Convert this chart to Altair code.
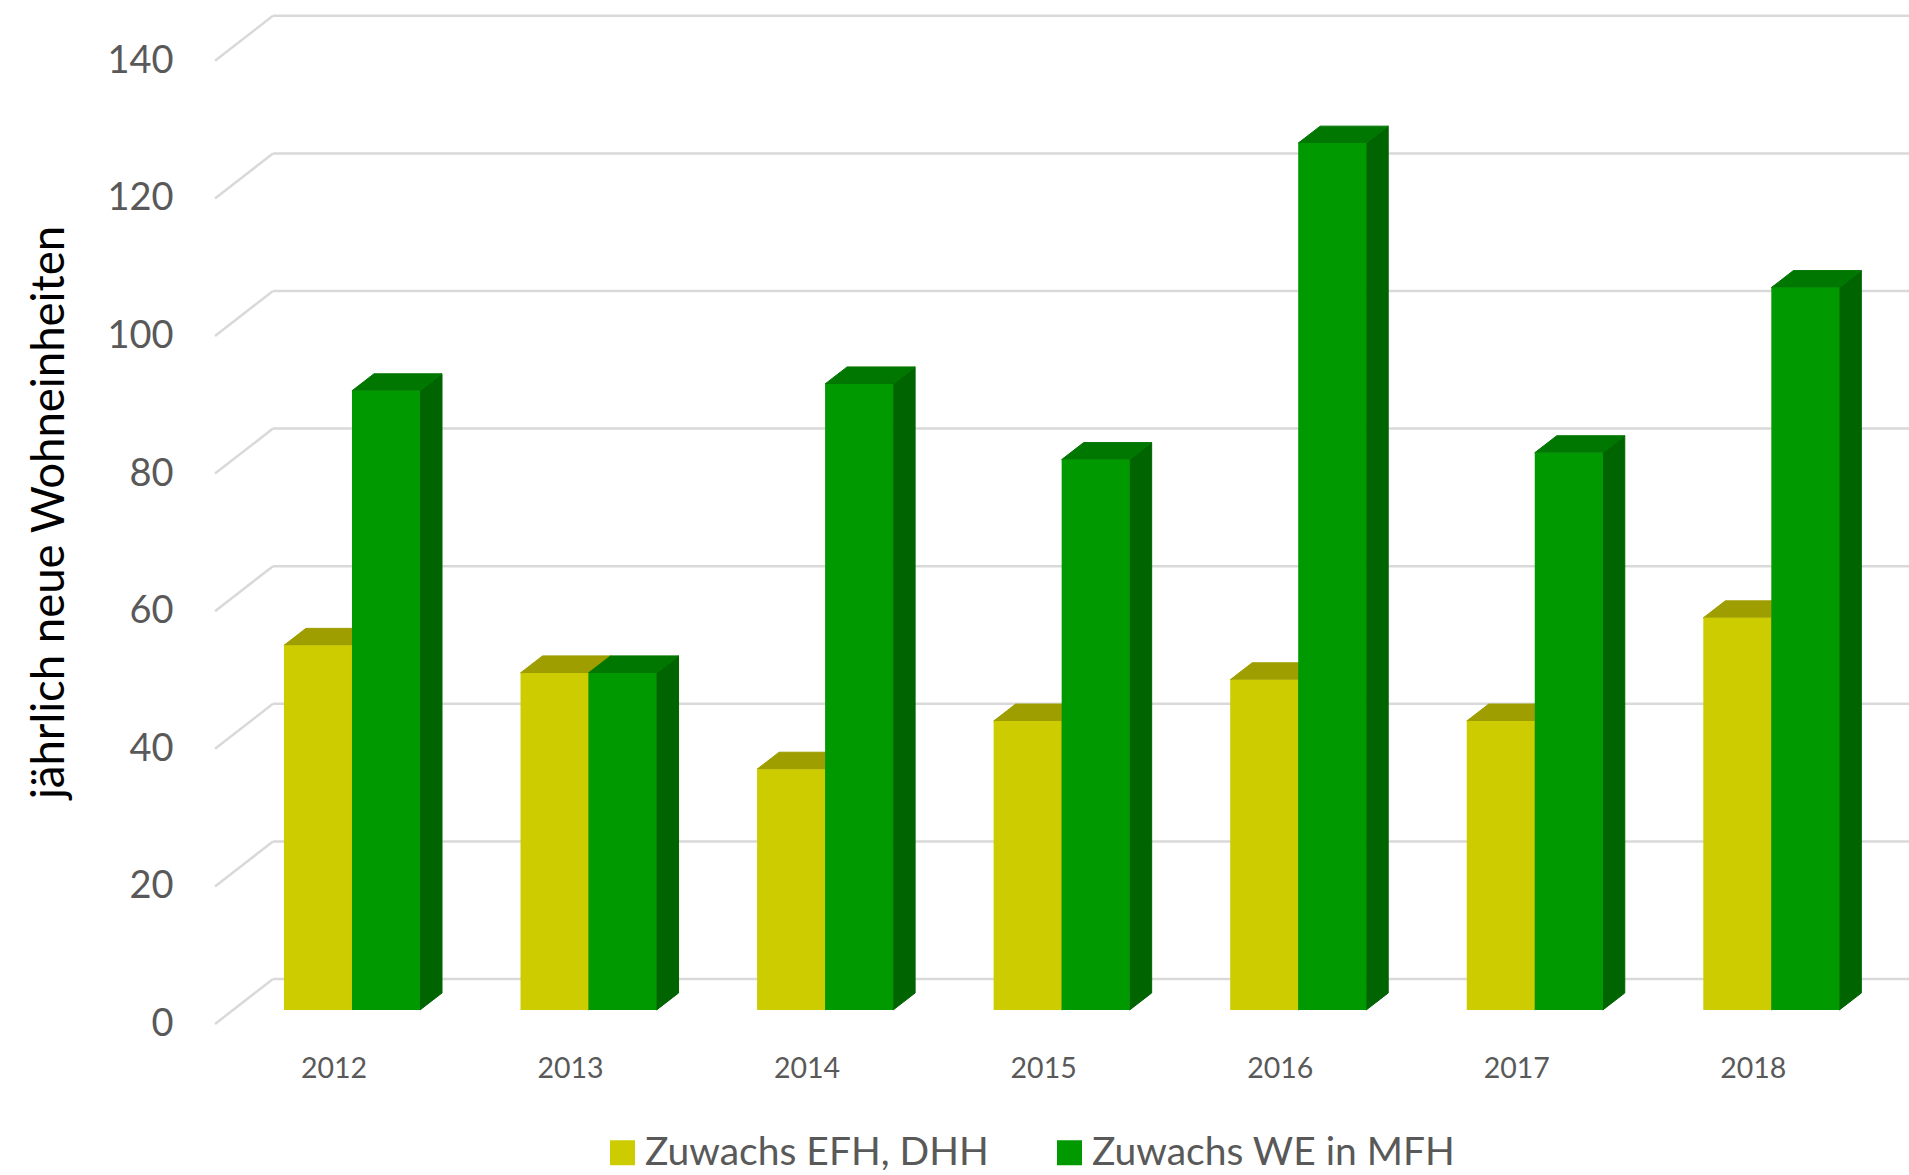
import altair as alt
import pandas as pd

# ---------------- data ----------------
years = ["2012", "2013", "2014", "2015", "2016", "2017", "2018"]
efh = [53, 49, 35, 42, 48, 42, 57]        # Zuwachs EFH, DHH
mfh = [90, 49, 91, 80, 126, 81, 105]      # Zuwachs WE in MFH
series_names = ["Zuwachs EFH, DHH", "Zuwachs WE in MFH"]
tick_values = [0, 20, 40, 60, 80, 100, 120, 140]
y_title = "jährlich neue Wohneinheiten"

# ---------------- layout / style constants ----------------
W, H = 1909, 1175
GAP = 0.2125          # left gap inside a category slot (slot units)
BW = 0.2875           # bar width (slot units)
DX = 0.093            # 3D depth, horizontal (slot units)
DY = 2.47             # 3D depth, vertical (value units)
X_RANGE = [233.7, 1889.6]
Y_RANGE = [1010, 46.8]
WALL_LEFT = 0.166     # back wall left edge (slot units)
FRONT_LEFT = -0.079   # front edge of grid diagonals (slot units)
WALL_RIGHT = 7.2

front_colors = ["#CCCC00", "#009900"]
top_colors = ["#9E9E00", "#007700"]
side_colors = ["#8A8A00", "#006400"]
grid_color = "#D9D9D9"
text_gray = "#595959"
FONT = "Lato"

xs = alt.Scale(domain=[0, 7], range=X_RANGE)
ys = alt.Scale(domain=[0, 140], range=Y_RANGE)

# ---------------- derived tables ----------------
bars, tops, sides = [], [], []
vals_by_series = [efh, mfh]
for i, yr in enumerate(years):
    for k, s in enumerate(series_names):
        v = vals_by_series[k][i]
        xl = i + GAP + k * BW
        xr = xl + BW
        bid = f"{yr}-{k}"
        bars.append(dict(id=bid, year=yr, series=s, k=k, value=v, base=0, xl=xl, xr=xr))
        tops.append(dict(id=bid, k=k, yv=v, xa=xl, xb=xr))
        tops.append(dict(id=bid, k=k, yv=v + DY, xa=xl + DX, xb=xr + DX))
        sides.append(dict(id=bid, k=k, xv=xr, ya=v, yb=0))
        sides.append(dict(id=bid, k=k, xv=xr + DX, ya=v + DY, yb=DY))

bars_df = pd.DataFrame(bars)
tops_df = pd.DataFrame(tops)
sides_df = pd.DataFrame(sides)
ticks_df = pd.DataFrame({"tick": tick_values})
ticks_df["xf"] = FRONT_LEFT
ticks_df["xw"] = WALL_LEFT
ticks_df["xr"] = WALL_RIGHT
years_df = pd.DataFrame({"year": years, "xc": [i + 0.5 for i in range(len(years))], "base": 0})

# ---------------- shared y axis ----------------
yaxis = alt.Axis(
    values=tick_values, grid=False, domain=False, ticks=False, tickSize=0,
    labelPadding=0, offset=-173, labelOffset=14.5,
    labelFont=FONT, labelFontSize=38, labelColor=text_gray,
    title=y_title, titleFont=FONT, titleFontSize=45.5, titleFontWeight="normal",
    titleColor="#000000", titleAngle=270, titleX=-124, titleY=512,
    titleAlign="center", titleBaseline="middle")


def Y(field, **kw):
    return alt.Y(field, scale=ys, axis=yaxis, title=y_title, **kw)


def X(field, **kw):
    return alt.X(field, scale=xs, axis=None, **kw)


# ---------------- layers ----------------
grid_back = alt.Chart(ticks_df).mark_rule(color=grid_color, strokeWidth=2.5, yOffset=-31).encode(
    x=X("xw:Q"), x2="xr:Q", y=Y("tick:Q"),
)

grid_diag = alt.Chart(ticks_df).mark_rule(color=grid_color, strokeWidth=2.5, yOffset=14, y2Offset=-31).encode(
    x=X("xf:Q"), x2="xw:Q", y=Y("tick:Q"), y2="tick:Q",
)


def side_layer(k):
    c = side_colors[k]
    return alt.Chart(sides_df[sides_df.k == k]).mark_area(
        orient="vertical", color=c, stroke=c, strokeWidth=1).encode(
        x=X("xv:Q"), y=Y("ya:Q", stack=None), y2="yb:Q", detail="id:N",
    )


def top_layer(k):
    c = top_colors[k]
    return alt.Chart(tops_df[tops_df.k == k]).mark_area(
        orient="horizontal", color=c, stroke=c, strokeWidth=1).encode(
        y=Y("yv:Q"), x=X("xa:Q", stack=None), x2="xb:Q", detail="id:N",
    )


fronts = alt.Chart(bars_df).mark_rect().encode(
    x=X("xl:Q"), x2="xr:Q",
    y=Y("value:Q"), y2="base:Q",
    color=alt.Color("series:N", scale=alt.Scale(domain=series_names, range=front_colors),
                    legend=alt.Legend(title=None, orient="none", legendX=603, legendY=1133,
                                      direction="horizontal", symbolType="square",
                                      symbolSize=625, symbolStrokeWidth=0, padding=0,
                                      labelFont=FONT, labelFontSize=39, labelColor=text_gray,
                                      labelLimit=0, labelOffset=3, columnPadding=61)),
)

year_labels = alt.Chart(years_df).mark_text(
    font=FONT, fontSize=28.5, color=text_gray, dx=-18, dy=59,
    align="center", baseline="middle").encode(
    x=X("xc:Q"), y=Y("base:Q"), text="year:N",
)

chart = alt.layer(
    grid_back, grid_diag,
    side_layer(0), top_layer(0),
    side_layer(1), top_layer(1),
    fronts, year_labels,
).properties(
    width=W, height=H, padding=0,
    autosize=alt.AutoSizeParams(type="none"),
    background="white",
).configure_view(strokeWidth=0)

chart.save("out.html", embed_options={"renderer": "svg", "actions": False})
